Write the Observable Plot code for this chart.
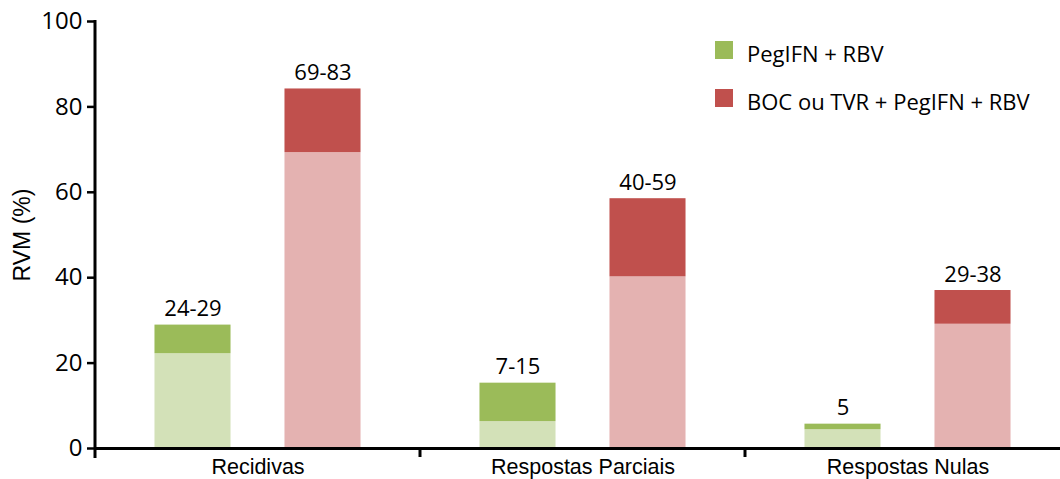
<!DOCTYPE html>
<html><head><meta charset="utf-8">
<script src="https://cdn.jsdelivr.net/npm/d3@7"></script>
<script src="https://cdn.jsdelivr.net/npm/@observablehq/plot@0.6"></script>
<style>
html,body{margin:0;padding:0;background:#fff;overflow:hidden;}
#wrap{position:relative;width:1060px;height:479px;overflow:hidden;}
#wrap svg{position:absolute;left:0;top:0;max-width:none !important;width:1080px !important;height:479px !important;}
g[aria-label="fx-axis tick label"] text{font-family:"Liberation Sans",Arial,sans-serif;font-size:21.5px;}
g[aria-label="y-axis label"] text{font-family:"Liberation Sans",Arial,sans-serif;font-size:23px;}
g[aria-label="y-axis tick label"] text{font-family:"Open Sans",sans-serif;font-size:24px;}
.legend{position:absolute;left:715px;top:26px;font-family:"Open Sans",sans-serif;font-size:22px;color:#000;}
.legend .row{display:flex;align-items:center;height:48px;}
.legend .sw{width:18px;height:18px;margin-right:14px;flex:none;}
.legend .lb{padding-top:6px;white-space:nowrap;}
</style></head>
<body><div id="wrap"></div>
<script>
const categories = ["Recidivas", "Respostas Parciais", "Respostas Nulas"];
const treatments = ["PegIFN + RBV", "BOC ou TVR + PegIFN + RBV"];
const pegLow = [22.2, 6.3, 4.4];
const pegHigh = [28.9, 15.3, 5.7];
const pegLabels = ["24-29", "7-15", "5"];
const bocLow = [69.3, 40.2, 29.1];
const bocHigh = [84.2, 58.5, 37.0];
const bocLabels = ["69-83", "40-59", "29-38"];
const yTicks = [0, 20, 40, 60, 80, 100];
const darkColors = ["#9BBB59", "#C0504D"];
const lightColors = ["#D3E1B8", "#E4B2B1"];

const lows = [pegLow, bocLow], highs = [pegHigh, bocHigh], labels = [pegLabels, bocLabels];
const rows = categories.flatMap((c, i) => treatments.map((t, j) => ({
  cat: c, trat: t, low: lows[j][i], high: highs[j][i], label: labels[j][i],
  light: lightColors[j], dark: darkColors[j]
})));

const chart = Plot.plot({
  width: 1080, height: 479,
  marginLeft: 95, marginRight: 10, marginTop: 21, marginBottom: 31,
  style: {fontFamily: "'Open Sans', sans-serif", color: "#000", background: "transparent", overflow: "visible", maxWidth: "none"},
  fx: {domain: categories, padding: 0, round: false},
  x: {domain: treatments, paddingInner: 0.415, paddingOuter: 0.4575, round: false, axis: null},
  y: {domain: [0, 100]},
  color: {type: "identity"},
  marks: [
    Plot.barY(rows, {fx: "cat", x: "trat", y1: 0, y2: "low", fill: "light"}),
    Plot.barY(rows, {fx: "cat", x: "trat", y1: "low", y2: "high", fill: "dark"}),
    Plot.ruleY([0], {stroke: "#000", strokeWidth: 3}),
    Plot.text(rows, {fx: "cat", x: "trat", y: "high", text: "label", dy: -9, lineAnchor: "bottom", fontSize: 22, fill: "#000"}),
    Plot.axisY({ticks: yTicks, tickSize: 8, tickPadding: 5, strokeWidth: 2.5, label: "RVM (%)", labelAnchor: "center", labelOffset: 82, labelArrow: "none"}),
    Plot.axisFx({anchor: "bottom", tickSize: 0, tickPadding: 10, label: null})
  ]
});
document.getElementById("wrap").appendChild(chart);

// axis lines and category boundary ticks from the plot's own scales
const svg = d3.select(chart);
const fx = chart.scale("fx"), y = chart.scale("y");
const x0 = fx.range[0];
const g = svg.append("g").attr("stroke", "#000").attr("stroke-width", 3);
g.append("line").attr("x1", x0).attr("x2", x0).attr("y1", y.apply(100) - 1).attr("y2", y.apply(0) + 10);
categories.forEach(c => {
  const xb = fx.apply(c) + fx.bandwidth;
  g.append("line").attr("x1", xb).attr("x2", xb).attr("y1", y.apply(0)).attr("y2", y.apply(0) + 9);
});

// legend
const leg = d3.select("#wrap").append("div").attr("class", "legend");
treatments.forEach((t, j) => {
  const r = leg.append("div").attr("class", "row");
  r.append("div").attr("class", "sw").style("background", darkColors[j]);
  r.append("div").attr("class", "lb").text(t);
});
</script>
</body></html>
